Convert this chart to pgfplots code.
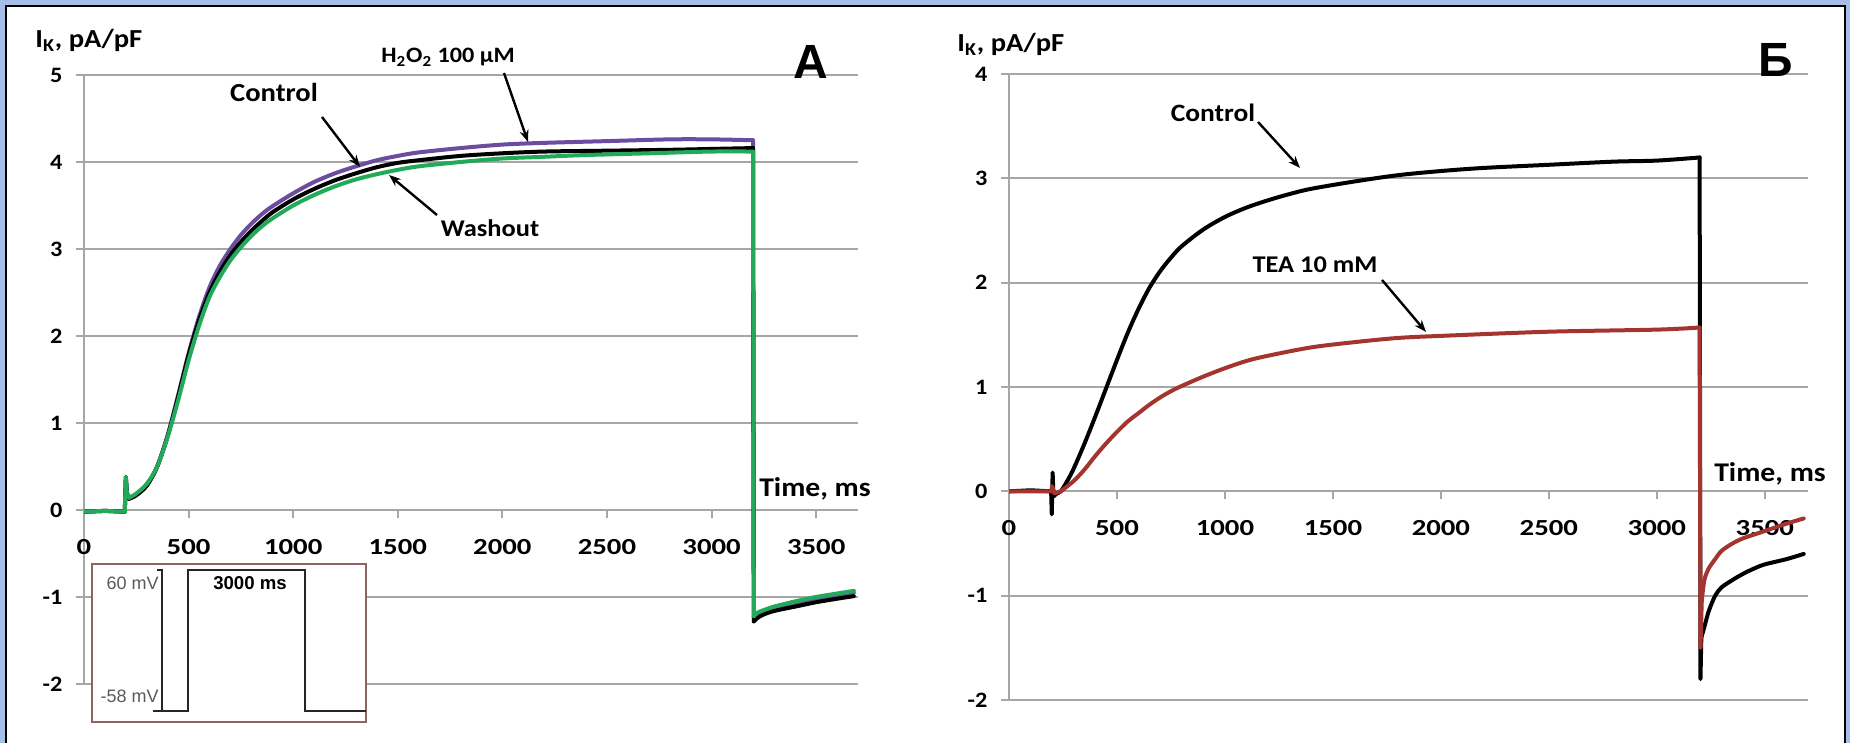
\documentclass[border=0pt]{standalone}
\usepackage{fontspec}
\setmainfont{Carlito}[FakeStretch=1.1]
\newfontfamily\tickfont{Carlito}[FakeStretch=1.25]
\newfontfamily\arialfont{Liberation Sans}
\usepackage{pgfplots}
\pgfplotsset{compat=1.18}
\usetikzlibrary{arrows.meta}

\definecolor{bgblue}{RGB}{166,191,232}
\definecolor{gridgray}{RGB}{166,166,166}
\definecolor{h2o2}{RGB}{108,76,158}
\definecolor{wash}{RGB}{34,170,90}
\definecolor{tea}{RGB}{163,52,46}
\definecolor{boxbrown}{RGB}{140,100,95}
\definecolor{inlbl}{RGB}{90,90,90}

\pgfplotsset{
  panel/.style={
    scale only axis, xmin=0, xmax=3700, ymin=-2,
    axis x line=middle, axis y line=left,
    hide obscured x ticks=false, hide obscured y ticks=false,
    axis line style={gridgray, line width=1pt, -},
    every inner x axis line/.append style={-},
    every outer y axis line/.append style={-},
    ymajorgrids, grid style={gridgray, line width=1pt},
    xtick={0,500,...,3500},
    major tick style={gridgray, line width=1pt},
    major tick length=4pt, tick align=outside,
    /pgf/number format/assume math mode=true,
    /pgf/number format/1000 sep={},
    yticklabel style={font=\bfseries\fontsize{11}{13}\selectfont, xshift=-3.3pt},
    xticklabel style={font=\tickfont\bfseries\fontsize{11.5}{13}\selectfont, yshift=-7pt},
    trace/.style={line width=2pt, line cap=round, line join=round},
    sm/.style={trace, smooth},
  }
}

\begin{document}
\begin{tikzpicture}
\useasboundingbox (0,0) rectangle (925pt,371.5pt);
\fill[bgblue] (0,0) rectangle (925pt,371.5pt);
\draw[fill=white, line width=1.2pt] (3pt,-10pt) rectangle (922.5pt,368.5pt);

% panel A
\begin{axis}[panel, at={(42pt,29.5pt)}, anchor=south west,
  width=387pt, height=304.5pt, ymax=5, ytick={-2,...,5}]
% H2O2 100 uM
\addplot[trace, h2o2] coordinates {(0,-0.02) (100,-0.01) (195,-0.02) (200,0.38) (205,0.2) (215,0.13)};
\addplot[sm, h2o2] coordinates {
(215,0.13) (250,0.17) (300,0.28) (350,0.5) (400,0.86) (450,1.32) (500,1.8) (550,2.22)
(600,2.56) (650,2.81) (700,3.0) (750,3.16) (800,3.29) (850,3.4) (900,3.49) (1000,3.64)
(1100,3.77) (1200,3.87) (1300,3.95) (1400,4.02) (1500,4.07) (1600,4.11)
(1800,4.16) (2000,4.2) (2200,4.22) (2500,4.24) (2800,4.26) (3000,4.26) (3198,4.25)};
\addplot[trace, h2o2] coordinates {(3198,4.25) (3202,-1.24)};
\addplot[sm, h2o2] coordinates {(3202,-1.24) (3250,-1.17) (3400,-1.07) (3500,-1.02) (3600,-0.98) (3680,-0.95)};
% Control
\addplot[trace, black] coordinates {(0,-0.02) (100,-0.01) (195,-0.02) (200,0.38) (205,0.2) (215,0.13)};
\addplot[sm, black] coordinates {
(215,0.13) (250,0.17) (300,0.28) (350,0.5) (400,0.85) (450,1.3) (500,1.78) (550,2.18)
(600,2.5) (650,2.74) (700,2.93) (750,3.08) (800,3.21) (850,3.32) (900,3.42) (1000,3.57)
(1100,3.69) (1200,3.79) (1300,3.87) (1400,3.94) (1500,3.99) (1600,4.02)
(1800,4.07) (2000,4.1) (2200,4.12) (2500,4.13) (2800,4.14) (3000,4.15) (3198,4.16)};
\addplot[trace, black] coordinates {(3198,4.16) (3202,-1.28)};
\addplot[sm, black] coordinates {(3202,-1.28) (3220,-1.24) (3250,-1.2) (3300,-1.16) (3400,-1.11) (3500,-1.06) (3600,-1.02) (3680,-0.99)};
% Washout
\addplot[trace, wash] coordinates {(0,-0.02) (100,-0.01) (195,-0.02) (200,0.38) (205,0.2) (215,0.14)};
\addplot[sm, wash] coordinates {
(215,0.14) (250,0.19) (300,0.3) (350,0.5) (400,0.84) (450,1.26) (500,1.72) (550,2.12)
(600,2.45) (650,2.68) (700,2.87) (750,3.02) (800,3.15) (850,3.26) (900,3.35) (1000,3.5)
(1100,3.62) (1200,3.72) (1300,3.8) (1400,3.86) (1500,3.91) (1600,3.95)
(1800,4.0) (2000,4.04) (2200,4.06) (2400,4.08) (2700,4.1) (3000,4.12) (3198,4.12)};
\addplot[trace, wash] coordinates {(3198,4.12) (3202,-1.22)};
\addplot[sm, wash] coordinates {(3202,-1.22) (3220,-1.18) (3250,-1.15) (3300,-1.11) (3400,-1.05) (3500,-1.0) (3600,-0.96) (3680,-0.93)};
\end{axis}

% voltage protocol inset
\begin{axis}[at={(46pt,10.5pt)}, anchor=south west, scale only axis,
  width=137pt, height=79pt, xmin=0, xmax=7026, ymin=-67.2, ymax=65,
  xtick=\empty, ytick=\empty, axis line style={boxbrown, line width=0.8pt},
  axis background/.style={fill=white}, clip=false]
\addplot[black!85, line width=0.8pt] coordinates {
(1564,-58) (2461,-58) (2461,60) (5461,60) (5461,-58) (7026,-58)};
\addplot[black!85, line width=0.8pt] coordinates {
(1667,60) (1795,60) (1795,-58)};
\node[anchor=east, inner sep=0pt, text=inlbl, font=\arialfont\fontsize{9}{10}\selectfont]
  at (axis cs:1720,49) {60 mV};
\node[anchor=east, inner sep=0pt, text=inlbl, font=\arialfont\fontsize{9}{10}\selectfont]
  at (axis cs:1720,-46) {-58 mV};
\node[inner sep=0pt, font=\arialfont\bfseries\fontsize{9.3}{10}\selectfont]
  at (axis cs:4051,49) {3000 ms};
\end{axis}

% panel B
\begin{axis}[panel, at={(504.5pt,21.5pt)}, anchor=south west,
  width=399.5pt, height=313pt, ymax=4, ytick={-2,...,4}]
% Control
\addplot[trace, black] coordinates {(0,0) (100,0.01) (195,0) (198,-0.22) (202,0.18) (206,-0.05) (220,-0.02)};
\addplot[sm, black] coordinates {
(220,-0.02) (240,0) (270,0.1) (300,0.22) (350,0.46) (400,0.72) (450,0.99) (500,1.26)
(550,1.52) (600,1.75) (650,1.95) (700,2.11) (750,2.24) (800,2.35) (900,2.51)
(1000,2.63) (1100,2.72) (1200,2.79) (1300,2.85) (1400,2.9) (1600,2.97)
(1800,3.03) (2000,3.07) (2200,3.1) (2500,3.13) (2800,3.16) (3000,3.17) (3198,3.2)};
\addplot[trace, black] coordinates {(3198,3.2) (3202,-1.8) (3206,-1.4)};
\addplot[sm, black] coordinates {(3206,-1.4) (3220,-1.3) (3240,-1.15) (3270,-1.0)
(3300,-0.92) (3350,-0.85) (3400,-0.79) (3450,-0.74) (3500,-0.7) (3600,-0.65) (3680,-0.6)};
% TEA 10 mM
\addplot[trace, tea] coordinates {(0,0) (100,0) (195,0) (200,0.05) (210,-0.02) (240,0.0)};
\addplot[sm, tea] coordinates {
(240,0.0) (300,0.1) (350,0.21) (400,0.34) (450,0.46) (500,0.57) (550,0.67) (600,0.75)
(650,0.83) (700,0.9) (750,0.96) (800,1.01) (900,1.1) (1000,1.18) (1100,1.25)
(1200,1.3) (1400,1.38) (1600,1.43) (1800,1.47) (2000,1.49) (2500,1.53) (3000,1.55) (3198,1.57)};
\addplot[trace, tea] coordinates {(3198,1.57) (3202,-1.5) (3208,-1.05)};
\addplot[sm, tea] coordinates {(3208,-1.05) (3220,-0.85) (3240,-0.74) (3270,-0.65)
(3300,-0.57) (3350,-0.5) (3400,-0.45) (3500,-0.38) (3600,-0.31) (3680,-0.26)};
\end{axis}

% labels and arrows, in pixel units of the reference
\begin{scope}[x=0.5pt, y=-0.5pt, shift={(0,371.5pt)}]
\tikzset{lbl/.style={font=\bfseries\fontsize{12}{14}\selectfont, inner sep=0pt},
         arr/.style={line width=1.2pt, -{Stealth[length=6pt, width=4.5pt]}}}
\node[lbl, anchor=base west, font=\bfseries\fontsize{13}{15}\selectfont] at (35,48) {I\textsubscript{K}, pA/pF};
\node[lbl, anchor=base west, font=\bfseries\fontsize{13}{15}\selectfont] at (957,52) {I\textsubscript{K}, pA/pF};
\node[anchor=base, inner sep=0pt, font=\arialfont\bfseries\fontsize{24}{26}\selectfont] at (811,79) {A};
\node[anchor=base, inner sep=0pt, font=\arialfont\bfseries\fontsize{24}{26}\selectfont] at (1776,77) {Б};
\node[lbl, anchor=base, font=\bfseries\fontsize{11}{13}\selectfont] at (448,63) {H\textsubscript{2}O\textsubscript{2} 100 µM};
\node[lbl, anchor=base, font=\bfseries\fontsize{13}{15}\selectfont] at (274,102) {Control};
\node[lbl, anchor=base] at (490,237) {Washout};
\node[lbl, anchor=base, font=\bfseries\fontsize{13.5}{15}\selectfont] at (815,497) {Time, ms};
\node[lbl, anchor=base, font=\bfseries\fontsize{13.5}{15}\selectfont] at (1770,482) {Time, ms};
\node[lbl, anchor=base, font=\bfseries\fontsize{12.5}{15}\selectfont] at (1213,122) {Control};
\node[lbl, anchor=base] at (1315,273) {TEA 10 mM};
\draw[arr] (322,117) -- (360,167);
\draw[arr] (504,73) -- (528,142);
\draw[arr] (437,215) -- (389,175);
\draw[arr] (1258,122) -- (1300,168);
\draw[arr] (1382,280) -- (1426,332);
\end{scope}
\end{tikzpicture}
\end{document}
